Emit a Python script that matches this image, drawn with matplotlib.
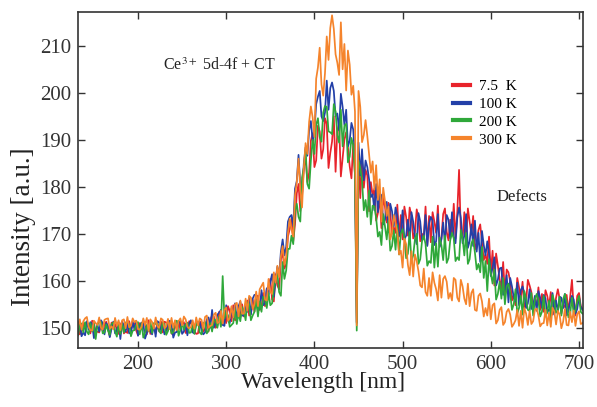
import numpy as np
import matplotlib
matplotlib.use("Agg")
import matplotlib.pyplot as plt

# Wavelength grid (nm), one reading every 2 nm
wavelength = np.arange(132, 705, 2)

labels = ["7.5  K", "100 K", "200 K", "300 K"]
colors = ["#e8232b", "#2340a8", "#2fa83a", "#f5842c"]

red_7_5K = [
    151.2, 148.6, 149.4, 151.0, 149.8, 150.8, 150.9, 148.8, 151.5, 151.2, 148.9, 149.2, 149.0, 150.6, 149.4, 150.7, 151.3, 149.6, 148.2, 151.1, 151.0, 150.8, 149.7, 148.7,
    150.6, 151.3, 148.8, 149.2, 148.9, 151.4, 149.5, 150.6, 151.1, 149.4, 148.4, 151.0, 149.9, 150.9, 151.2, 148.6, 151.6, 148.7, 149.1, 150.5, 148.8, 150.8, 149.2, 151.4,
    149.0, 151.3, 151.1, 149.5, 150.7, 148.8, 148.5, 151.2, 149.3, 151.5, 149.6, 150.8, 151.2, 148.9, 149.0, 151.4, 150.9, 151.0, 149.3, 148.7, 148.8, 151.4, 150.9, 149.2,
    149.8, 151.6, 149.2, 151.8, 152.6, 152.4, 150.0, 150.4, 153.4, 150.6, 150.8, 153.2, 151.0, 154.6, 153.6, 151.4, 154.8, 151.6, 151.8, 154.2, 152.2, 155.0, 152.4, 154.6,
    155.8, 152.6, 153.0, 156.0, 153.4, 156.8, 156.8, 153.8, 154.4, 157.4, 154.6, 158.2, 158.8, 160.4, 156.0, 155.6, 161.4, 159.0, 158.2, 164.6, 166.0, 162.6, 163.6, 169.4,
    171.0, 173.2, 168.4, 172.0, 178.6, 180.6, 174.8, 178.0, 184.0, 186.4, 181.0, 183.0, 189.8, 191.4, 184.2, 185.6, 193.0, 191.8, 186.0, 188.0, 194.6, 193.4, 184.0, 187.2,
    189.6, 195.0, 183.2, 192.0, 193.4, 182.2, 186.2, 190.0, 191.6, 188.4, 184.4, 181.8, 189.2, 182.6, 151.2, 186.8, 177.6, 185.4, 179.8, 183.6, 182.4, 174.8, 181.0, 178.2,
    179.6, 172.8, 174.4, 178.0, 171.2, 177.8, 175.8, 172.4, 176.6, 174.6, 170.0, 171.4, 170.2, 176.2, 169.4, 174.0, 168.8, 175.8, 173.6, 169.6, 175.6, 173.8, 169.0, 170.4,
    175.2, 173.4, 168.4, 170.0, 169.2, 175.8, 167.6, 173.8, 168.2, 174.6, 172.6, 170.2, 176.0, 167.4, 169.0, 174.2, 175.4, 170.4, 168.6, 173.0, 169.8, 176.4, 169.0, 174.6,
    183.6, 170.4, 169.0, 174.6, 168.4, 175.4, 172.6, 169.8, 173.8, 166.6, 168.0, 170.8, 172.0, 168.2, 164.4, 165.6, 163.6, 169.4, 161.6, 166.4, 159.0, 165.8, 163.2, 160.4,
    158.4, 164.0, 157.2, 162.4, 161.8, 159.8, 155.8, 157.0, 154.8, 160.6, 158.6, 156.2, 159.8, 154.2, 155.6, 160.2, 159.0, 157.6, 154.6, 155.2, 154.8, 158.6, 153.8, 157.2,
    153.4, 158.0, 156.8, 154.6, 157.6, 152.8, 154.0, 156.4, 158.2, 156.2, 153.0, 154.8, 154.4, 157.0, 153.4, 156.6, 160.2, 154.2, 152.6, 156.8, 157.4, 154.6, 154.0,
]

blue_100K = [
    150.9, 150.8, 148.2, 149.0, 148.4, 151.4, 149.6, 151.2, 150.8, 147.8, 149.4, 150.6, 149.2, 151.6, 151.0, 148.6, 151.0, 150.4, 148.0, 149.8, 151.3, 148.8, 149.4, 151.2,
    147.6, 151.2, 150.6, 149.2, 150.9, 148.8, 149.0, 151.3, 149.6, 151.5, 148.3, 150.4, 151.1, 151.0, 147.7, 148.9, 150.7, 149.3, 148.6, 150.8, 148.1, 151.4, 151.1, 149.5,
    150.8, 148.6, 149.4, 151.0, 151.5, 150.7, 147.9, 149.0, 149.1, 151.2, 151.3, 148.7, 149.2, 150.9, 148.4, 150.9, 151.6, 149.0, 148.8, 151.4, 151.0, 151.2, 149.5, 148.6,
    149.0, 151.8, 152.2, 150.0, 153.8, 150.0, 151.0, 152.8, 153.2, 153.8, 150.6, 150.4, 154.8, 151.6, 151.0, 154.2, 152.2, 155.2, 151.8, 154.6, 155.6, 152.6, 152.6, 155.0,
    153.4, 156.4, 152.8, 156.2, 157.0, 157.0, 153.6, 154.2, 158.0, 154.8, 155.2, 158.4, 157.0, 159.8, 161.4, 156.6, 160.0, 163.0, 161.0, 166.2, 168.8, 165.4, 167.2, 172.6,
    173.6, 174.0, 171.6, 179.6, 181.2, 186.8, 180.4, 178.4, 185.0, 188.4, 186.6, 192.0, 194.0, 189.8, 191.8, 197.6, 199.2, 200.4, 195.0, 194.0, 195.8, 202.6, 196.4, 201.0,
    202.2, 200.4, 195.0, 195.6, 192.0, 199.8, 197.0, 193.2, 196.4, 188.6, 189.8, 193.6, 192.2, 186.0, 151.0, 189.4, 182.4, 188.0, 181.4, 185.6, 184.2, 181.6, 177.8, 178.4,
    175.0, 180.6, 174.6, 178.6, 178.2, 172.0, 173.0, 176.8, 170.4, 176.4, 174.8, 171.6, 175.6, 173.8, 169.6, 170.4, 175.0, 168.8, 169.6, 173.0, 168.4, 174.6, 172.6, 169.4,
    167.8, 174.4, 172.6, 168.6, 169.2, 174.0, 167.4, 172.2, 173.6, 172.8, 167.6, 168.4, 174.2, 167.2, 168.8, 172.4, 167.8, 174.0, 173.0, 169.0, 174.6, 169.4, 168.0, 173.4,
    175.6, 173.4, 168.0, 169.6, 174.2, 167.0, 168.4, 172.0, 167.4, 172.8, 166.2, 170.2, 164.0, 170.6, 167.6, 165.4, 168.4, 165.8, 161.0, 162.8, 165.0, 159.0, 160.2, 162.6,
    162.8, 157.0, 158.0, 161.2, 155.4, 160.6, 158.8, 156.4, 155.6, 159.6, 154.8, 158.0, 158.8, 157.4, 154.2, 155.2, 158.2, 154.0, 154.8, 156.8, 153.6, 157.8, 156.4, 154.2,
    157.0, 156.2, 153.2, 154.0, 153.6, 157.4, 152.8, 155.8, 153.4, 156.6, 156.4, 154.2, 157.2, 152.6, 153.8, 155.6, 156.8, 156.0, 153.0, 154.0, 156.6, 154.4, 153.8,
]

green_200K = [
    148.4, 150.6, 150.9, 149.0, 151.2, 149.2, 148.6, 151.0, 149.2, 150.9, 147.6, 150.6, 151.4, 151.2, 148.8, 149.0, 150.7, 149.4, 148.5, 150.8, 151.1, 149.3, 148.1, 150.7,
    148.7, 150.8, 149.0, 151.1, 151.3, 150.8, 148.2, 149.4, 149.5, 150.6, 151.2, 148.6, 151.0, 147.9, 149.0, 150.6, 149.2, 151.4, 148.9, 151.0, 150.8, 150.9, 149.3, 148.8,
    151.2, 150.8, 148.5, 149.3, 150.9, 148.8, 149.1, 151.2, 151.5, 148.3, 149.5, 150.9, 149.6, 150.7, 151.1, 148.9, 149.0, 151.0, 148.7, 150.6, 151.3, 149.0, 148.6, 151.0,
    151.2, 148.8, 149.4, 151.0, 149.2, 151.8, 151.6, 150.0, 152.4, 150.2, 161.0, 152.0, 153.4, 152.6, 150.2, 150.6, 151.0, 154.0, 150.8, 153.0, 151.4, 154.4, 153.6, 151.6,
    155.4, 155.0, 151.6, 152.6, 153.4, 155.8, 152.4, 155.6, 153.4, 156.6, 156.4, 154.2, 157.4, 154.8, 155.2, 158.4, 160.0, 161.6, 157.6, 156.8, 164.0, 160.4, 162.2, 166.8,
    166.8, 169.6, 167.8, 174.8, 176.4, 173.6, 172.6, 182.0, 184.0, 188.0, 180.6, 179.6, 185.6, 190.0, 187.0, 193.2, 194.6, 190.6, 189.6, 195.8, 197.2, 197.0, 191.8, 191.6,
    191.2, 197.6, 196.0, 191.0, 189.4, 196.4, 188.6, 193.0, 193.4, 185.2, 186.4, 190.4, 188.8, 182.6, 149.4, 185.6, 184.0, 181.4, 175.0, 177.2, 173.6, 179.2, 172.0, 176.0,
    175.8, 173.4, 169.4, 170.4, 167.6, 174.2, 171.6, 168.8, 172.8, 166.4, 167.4, 170.8, 166.6, 171.8, 165.6, 170.0, 171.0, 169.2, 164.8, 165.8, 170.4, 164.2, 165.4, 168.8,
    170.0, 163.6, 164.6, 168.4, 169.6, 167.8, 163.2, 164.2, 163.8, 169.4, 162.8, 168.0, 163.0, 169.2, 167.6, 164.4, 169.6, 163.8, 164.8, 168.6, 170.2, 169.0, 164.2, 165.0,
    164.4, 170.8, 169.0, 165.4, 170.2, 163.6, 164.6, 168.0, 168.8, 166.0, 162.4, 163.6, 161.8, 167.2, 160.6, 164.2, 157.8, 164.6, 161.6, 159.4, 162.4, 156.0, 157.2, 159.8,
    156.2, 160.6, 155.0, 158.8, 159.4, 157.4, 153.8, 155.0, 158.2, 153.0, 154.2, 156.8, 152.8, 157.8, 156.2, 153.8, 153.6, 157.4, 152.6, 156.0, 157.2, 155.8, 152.4, 153.4,
    156.8, 152.4, 153.4, 155.8, 152.0, 157.0, 155.6, 153.2, 153.6, 156.6, 152.6, 156.0, 157.2, 155.4, 152.2, 153.0, 156.4, 152.8, 153.8, 155.6, 156.8, 153.4, 153.0,
]

orange_300K = [
    150.2, 151.8, 149.6, 151.4, 152.0, 152.3, 150.2, 149.5, 149.4, 151.5, 151.0, 150.6, 152.2, 150.0, 149.6, 151.7, 151.9, 152.0, 149.8, 150.3, 149.7, 152.1, 150.4, 151.6,
    149.5, 151.6, 151.8, 149.9, 152.3, 150.1, 150.4, 152.0, 151.2, 151.5, 149.7, 149.6, 150.2, 152.0, 150.6, 152.1, 149.3, 151.8, 151.2, 149.8, 152.2, 150.3, 150.0, 152.0,
    151.7, 149.9, 150.3, 151.9, 149.7, 152.1, 150.0, 151.6, 149.5, 151.4, 152.0, 150.5, 152.4, 151.8, 150.2, 149.9, 150.1, 151.6, 149.8, 152.2, 150.5, 152.0, 151.7, 149.8,
    152.3, 152.6, 150.0, 150.4, 150.6, 152.8, 153.2, 151.0, 151.2, 153.6, 150.9, 153.8, 154.3, 151.5, 152.0, 154.6, 152.2, 155.0, 155.3, 152.4, 155.8, 153.0, 153.0, 156.2,
    153.6, 156.8, 156.4, 154.0, 155.0, 157.7, 154.6, 158.2, 158.9, 159.6, 156.0, 155.8, 160.4, 157.6, 157.2, 161.8, 159.6, 163.2, 160.8, 165.2, 167.4, 163.4, 165.0, 170.2,
    173.2, 171.0, 169.4, 178.2, 181.0, 186.0, 179.4, 175.6, 184.0, 189.3, 187.0, 193.8, 197.1, 194.8, 190.6, 203.0, 205.4, 209.6, 201.8, 199.4, 204.2, 212.0, 207.0, 213.8,
    216.5, 213.6, 208.2, 206.4, 203.8, 215.0, 205.0, 210.4, 200.5, 209.0, 206.0, 199.6, 201.5, 196.0, 150.5, 200.4, 197.0, 189.5, 191.0, 194.2, 190.8, 186.8, 183.0, 185.4,
    179.4, 184.6, 177.2, 181.6, 172.6, 179.8, 177.0, 173.8, 175.8, 168.8, 170.2, 174.0, 172.2, 170.4, 165.6, 166.4, 162.8, 169.0, 167.8, 163.4, 161.2, 166.3, 160.9, 165.6,
    164.2, 162.0, 159.0, 158.6, 162.6, 157.6, 156.8, 160.6, 156.8, 161.8, 159.6, 158.2, 155.8, 161.2, 156.4, 160.4, 161.0, 159.8, 156.2, 157.4, 155.8, 160.6, 160.2, 156.4,
    155.6, 160.2, 158.8, 156.2, 155.0, 159.4, 154.6, 157.4, 158.2, 153.8, 153.6, 156.8, 157.3, 155.6, 152.4, 154.2, 152.6, 156.2, 151.8, 154.8, 155.2, 150.9, 151.6, 153.8,
    154.4, 150.6, 151.2, 153.4, 154.0, 152.8, 150.2, 150.8, 151.6, 153.8, 150.4, 153.6, 150.0, 154.2, 153.0, 150.6, 153.6, 150.8, 151.4, 153.8, 154.1, 152.6, 150.3, 150.9,
    151.0, 153.9, 150.5, 153.2, 150.2, 154.3, 153.5, 150.7, 153.6, 152.8, 149.9, 151.3, 154.0, 150.6, 150.5, 153.4, 151.2, 153.7, 150.4, 152.9, 153.5, 150.8, 151.0,
]

series = [red_7_5K, blue_100K, green_200K, orange_300K]

xticks = [200, 300, 400, 500, 600, 700]
yticks = [150, 160, 170, 180, 190, 200, 210]

plt.rcParams["font.family"] = ["Liberation Serif", "DejaVu Serif"]
plt.rcParams["mathtext.fontset"] = "stix"

fig = plt.figure(figsize=(5.97, 4.07), dpi=100)
ax = fig.add_axes([0.1307, 0.145, 0.8458, 0.8255])

for vals, lab, col in zip(series, labels, colors):
    ax.plot(wavelength[:len(vals)], vals, color=col, lw=1.25, label=lab)

ax.set_xlim(132, 704.5)
ax.set_ylim(145.7, 217.2)
ax.set_xticks(xticks)
ax.set_yticks(yticks)
ax.tick_params(direction="in", top=True, right=True, length=5, width=1,
               labelsize=15, colors="#333333", pad=5)
for sp in ax.spines.values():
    sp.set_linewidth(1.2)
    sp.set_color("#333333")

ax.set_xlabel("Wavelength [nm]", fontsize=17, color="#222222")
ax.xaxis.set_label_coords(0.485, -0.072)
ax.set_ylabel("Intensity [a.u.]", fontsize=19.5, color="#222222")
ax.yaxis.set_label_coords(-0.083, 0.36)

ax.text(0.168, 0.84, r"Ce$^{3+}$ 5d-4f + CT", transform=ax.transAxes,
        fontsize=11.5, color="#222222", va="center")
ax.text(0.829, 0.45, "Defects", transform=ax.transAxes,
        fontsize=12, color="#222222", va="center")

leg = ax.legend(loc="upper left", bbox_to_anchor=(0.742, 0.80), frameon=False,
                fontsize=11, handlelength=1.15, handletextpad=0.6,
                labelspacing=0.28, borderpad=0, borderaxespad=0)
for h in leg.get_lines():
    h.set_linewidth(3)

fig.savefig("out.png", dpi=100)
